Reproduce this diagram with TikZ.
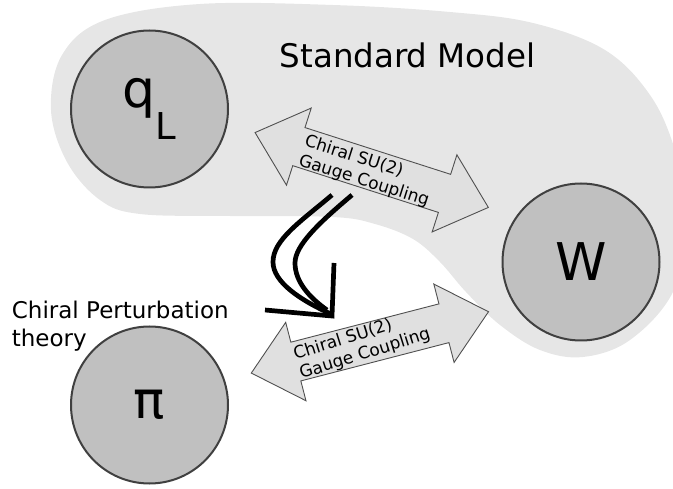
\documentclass[tikz,border=0pt]{standalone}
\usepackage{fontspec}
\setmainfont{DejaVu Sans}
\definecolor{blobgray}{HTML}{E6E6E6}
\definecolor{ballgray}{HTML}{C0C0C0}
\definecolor{ballline}{HTML}{404040}
\definecolor{arrowfill}{HTML}{E0E0E0}
\definecolor{arrowline}{HTML}{505050}
\begin{document}
\begin{tikzpicture}[x=1pt,y=-1pt,
  ball/.style={circle, draw=ballline, line width=2pt, fill=ballgray,
    minimum size=157pt, inner sep=0pt},
  couplingbody/.style={draw=arrowline, line width=0.9pt, fill=arrowfill, line join=miter},
  couplingtext/.style={font=\fontsize{17}{20}\selectfont, align=left, anchor=west, inner sep=0pt},
  flow/.style={line width=4.7pt, draw=black}
]
\useasboundingbox (0,0) rectangle (673,489);
\clip (0,0) rectangle (673,489);

% shaded region of the Standard Model
\fill[blobgray] plot[smooth cycle, tension=0.6] coordinates {
  (51,110) (62,55) (105,20) (200,4) (333,5) (450,12) (533,23) (605,50)
  (650,95) (675,150) (690,220) (673,292) (630,340) (583,357) (540,350)
  (500,325) (466,292) (440,262) (413,239) (375,224) (333,217) (230,216)
  (140,214) (100,200) (67,162)};

\node[anchor=base west, inner sep=0pt, font=\fontsize{32.5}{39}\selectfont] (sm)
  at (279.5,68) {Standard Model};
\node[anchor=base west, inner sep=0pt, align=left, font=\fontsize{23}{28}\selectfont] (cpt)
  at (11.7,347) {Chiral Perturbation\\theory};

% particles
\node[ball] (qL) at (149.5,109)
  {\fontsize{52}{52}\selectfont q\raisebox{-32pt}{\fontsize{37}{37}\selectfont L}};
\node[ball] (W) at (581,262) {\fontsize{52}{52}\selectfont W};
\node[ball] (pi) at (149.5,405) {\fontsize{52}{52}\selectfont π};

% gauge couplings as double block arrows
\coordinate (upc) at (371.7,170);
\coordinate (loc) at (369.9,342.4);
\foreach \c/\r in {upc/-17.8, loc/14.5}{
  \begin{scope}[shift={(\c)}, rotate=\r]
    \draw[couplingbody] (-122.5,0) -- (-76.5,-40.5) -- (-76.5,-20) -- (76.5,-20)
      -- (76.5,-40.5) -- (122.5,0) -- (76.5,40.5) -- (76.5,20) -- (-76.5,20)
      -- (-76.5,40.5) -- cycle;
  \end{scope}
}
\node[couplingtext, rotate=-17.6] (uptext) at (302,151) {Chiral SU(2)\\Gauge Coupling};
\node[couplingtext, rotate=17.4] (lotext) at (297,365) {Chiral SU(2)\\Gauge Coupling};

% bent double arrow from the quark level down to the pion level
\coordinate (fo) at (332,195);
\coordinate (fi) at (352,195);
\coordinate (tip) at (332,316);
\draw[flow] (fo) .. controls (300,222) and (273,240) .. (273,262)
  .. controls (273,282) and (300,300) .. (331,314);
\draw[flow] (fi) .. controls (320,222) and (295,245) .. (295,263)
  .. controls (295,282) and (310,298) .. (327,310);
\draw[flow, line join=miter] (265,310) -- (tip) -- (334,263);
\end{tikzpicture}
\end{document}
